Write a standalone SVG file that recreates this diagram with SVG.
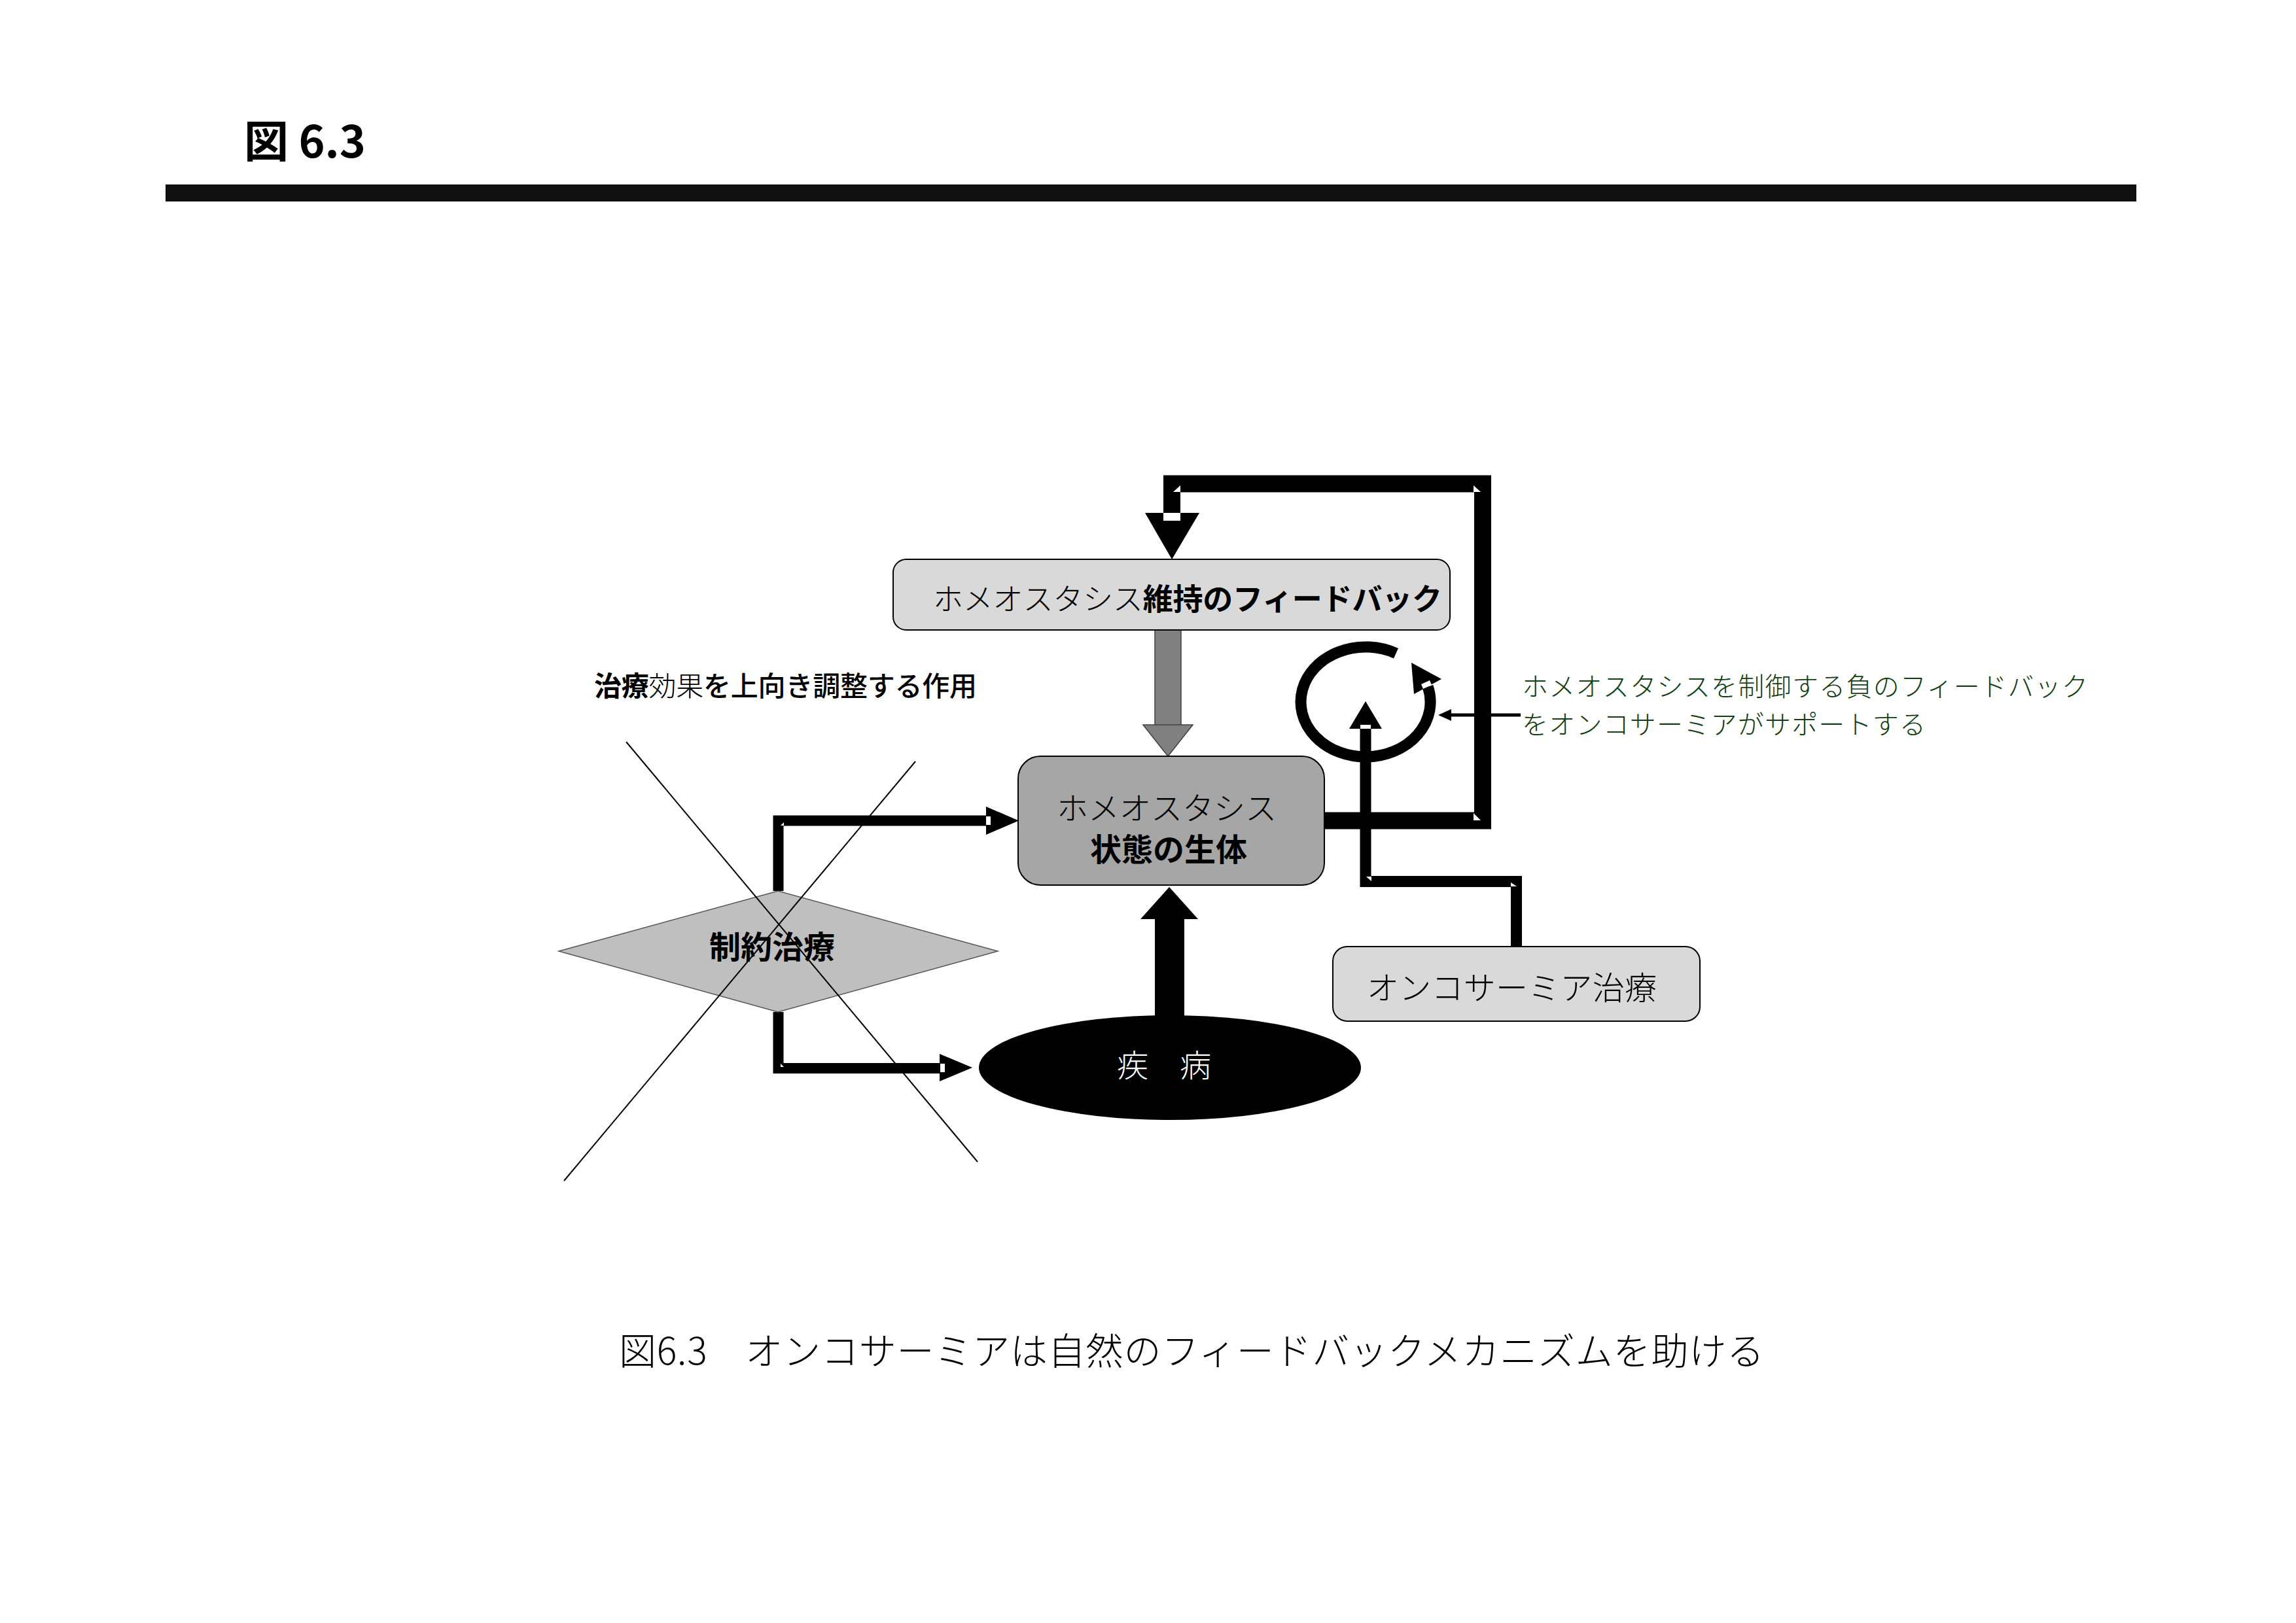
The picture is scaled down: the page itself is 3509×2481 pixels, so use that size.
<svg xmlns="http://www.w3.org/2000/svg" width="3509" height="2481" viewBox="0 0 3509 2481">
<style>
text{font-family:"Noto Sans CJK JP","Noto Sans CJK SC",sans-serif;fill:#000}
.lt{font-weight:300}
.bd{font-weight:700}
.md{font-weight:500}
.box{stroke:#000;stroke-width:2}
.thick{fill:none;stroke:#000;stroke-width:26;stroke-linejoin:miter}
.mid{fill:none;stroke:#000;stroke-width:17;stroke-linejoin:miter}
.thin{fill:none;stroke:#000;stroke-width:16;stroke-linejoin:miter}
.head{fill:#000}
.notch{fill:#fff}
.xline{stroke:#000;stroke-width:2}
.note{fill:#123f12}
</style>
<rect width="3509" height="2481" fill="#fff"/>

<g id="header">
<text x="373" y="241" font-size="68" class="bd">図 6.3</text>
<rect x="253" y="282" width="3012" height="26" fill="#0f0f0f"/>
</g>

<g id="connectors">
<!-- feedback loop -->
<polyline class="thick" points="2024,1254.5 2266,1254.5 2266,739.5 1791,739.5 1791,785"/>
<polygon class="head" points="1750,784 1833,784 1791,855"/>
<rect class="notch" x="1778" y="784" width="26" height="12"/>
<polygon class="notch" points="1804,742 1804,752 1793,752"/>
<polygon class="notch" points="2252,742 2252,752 2263,752"/>
<polygon class="notch" points="2252,1243 2252,1254 2263,1254"/>
<!-- gray arrow -->
<rect x="1765" y="963" width="40" height="146" fill="#808080" stroke="#404040" stroke-width="1.5"/>
<polygon points="1747,1108 1823,1108 1785,1156" fill="#808080" stroke="#404040" stroke-width="1.5"/>
<!-- oncothermia path -->
<path class="mid" d="M2317.5,1447 V1347.5 H2087 V1112"/>
<polygon class="head" points="2062,1114 2112,1114 2087,1072"/>
<rect class="notch" x="2079" y="1108" width="16" height="6"/>
<polygon class="notch" points="2088,1340 2096,1340 2096,1347"/>
<polygon class="notch" points="2309,1349 2318,1355 2309,1355"/>
<!-- circular feedback -->
<path d="M2133.5,998.8 A99 84 0 1 0 2182.2,1049.8" fill="none" stroke="#000" stroke-width="17"/>
<polygon class="head" points="2157,1013 2203,1038 2161,1061"/>
<polygon class="notch" points="2172,1046 2185,1040 2188,1047 2175,1053"/>
<!-- small pointer -->
<line x1="2324" y1="1093" x2="2214" y2="1093" stroke="#000" stroke-width="5"/>
<polygon class="head" points="2198,1093 2218,1084 2218,1102"/>
<!-- diamond connectors -->
<path class="thin" d="M1189.5,1362 V1254.5 H1508"/>
<polygon class="head" points="1507,1233 1507,1276 1557,1254.5"/>
<rect class="notch" x="1507" y="1248" width="7" height="13"/>
<polygon class="notch" points="1198,1257 1198,1262 1193,1262"/>
<path class="thin" d="M1189.5,1547 V1633 H1437"/>
<polygon class="head" points="1436,1611 1436,1653 1486,1632"/>
<rect class="notch" x="1437" y="1626" width="7" height="13"/>
<polygon class="notch" points="1193,1626 1198,1631 1193,1631"/>
<!-- disease arrow -->
<rect x="1765" y="1404" width="45" height="160" fill="#000"/>
<polygon class="head" points="1743,1405 1831,1405 1787,1356"/>
</g>

<g id="node-feedback">
<rect class="box" x="1365" y="855" width="851" height="108" rx="20" fill="#d9d9d9"/>
<text x="1426" y="932" font-size="46" textLength="778" lengthAdjust="spacing"><tspan class="lt">ホメオスタシス</tspan><tspan class="bd">維持のフィードバック</tspan></text>
</g>

<g id="node-body">
<rect class="box" x="1556" y="1156" width="468" height="197" rx="34" fill="#a6a6a6"/>
<text x="1783" y="1253" font-size="48" text-anchor="middle" class="lt">ホメオスタシス</text>
<text x="1786" y="1316" font-size="48" text-anchor="middle" class="bd">状態の生体</text>
</g>

<g id="node-oncothermia">
<rect class="box" x="2037" y="1447" width="561" height="114" rx="22" fill="#d9d9d9"/>
<text x="2089" y="1528" font-size="49" class="lt" textLength="443" lengthAdjust="spacing">オンコサーミア治療</text>
</g>

<g id="node-disease">
<ellipse cx="1788" cy="1632" rx="292" ry="80" fill="#000"/>
<text x="1707" y="1646" font-size="48" class="lt" style="fill:#fff">疾　病</text>
</g>

<g id="node-note">
<text x="2326" y="1064" font-size="40" class="lt note" textLength="865" lengthAdjust="spacing">ホメオスタシスを制御する負のフィードバック</text>
<text x="2326" y="1122" font-size="40" class="lt note" textLength="617" lengthAdjust="spacing">をオンコサーミアがサポートする</text>
</g>

<g id="node-label">
<text x="908" y="1064" font-size="42" textLength="585" lengthAdjust="spacing"><tspan class="bd">治療</tspan><tspan class="lt">効果</tspan><tspan class="md">を上向き調整する作用</tspan></text>
</g>

<g id="node-restrictive">
<polygon points="854,1454 1189,1362 1525,1454 1189,1547" fill="#bfbfbf" stroke="#555" stroke-width="1.5"/>
<text x="1084" y="1465" font-size="48" class="bd">制約治療</text>
<line class="xline" x1="957" y1="1134" x2="1494" y2="1776"/>
<line class="xline" x1="1399" y1="1164" x2="862" y2="1805"/>
</g>

<g id="caption">
<text x="946" y="2086" font-size="57" class="lt" textLength="1750" lengthAdjust="spacing">図6.3　オンコサーミアは自然のフィードバックメカニズムを助ける</text>
</g>
</svg>
